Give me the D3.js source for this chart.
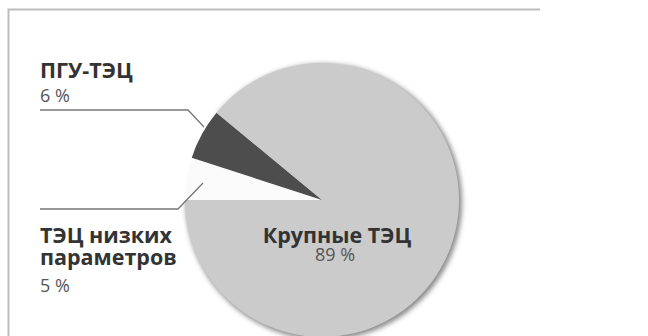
<!DOCTYPE html>
<html lang="ru">
<head>
    <meta charset="UTF-8">
    <title>Структура ТЭЦ</title>
    <script src="https://d3js.org/d3.v7.min.js"></script>
    <style>
        body { margin: 0; background: #fff; font-family: "Open Sans", Arial, sans-serif; }
        svg { display: block; }
        .name { font-weight: 700; fill: #333; font-size: 21.5px; }
        .pct { fill: #555; font-size: 18px; }
    </style>
</head>
<body>
    <svg width="648" height="336"></svg>
    <script>
        // Доли по типам ТЭЦ, %
        const categories = ["ТЭЦ низких параметров", "ПГУ-ТЭЦ", "Крупные ТЭЦ"];
        const values = [5, 6, 89];
        const colors = ["#fafafa", "#4d4d4d", "#cbcbcb"];

        const svg = d3.select("svg");
        const cx = 322, cy = 200, r = 137;

        // рамка
        svg.append("path")
            .attr("d", "M8.5,336 V9.5 H540")
            .attr("fill", "none")
            .attr("stroke", "#bdbdbd")
            .attr("stroke-width", 2);

        const defs = svg.append("defs");
        defs.append("filter").attr("id", "soft")
            .attr("x", "-10%").attr("y", "-10%").attr("width", "120%").attr("height", "120%")
            .append("feGaussianBlur").attr("stdDeviation", 2.5);

        const pie = d3.pie().sort(null)
            .startAngle(-Math.PI / 2)
            .endAngle(3 * Math.PI / 2);
        const arcs = pie(values);
        const arc = d3.arc().innerRadius(0).outerRadius(r);

        const g = svg.append("g").attr("transform", `translate(${cx},${cy})`);

        // тень по краю круга (только у большой доли)
        const big = arcs[2];
        g.append("path")
            .attr("d", d3.arc().innerRadius(0).outerRadius(r + 1)(big))
            .attr("transform", "translate(2,2)")
            .attr("fill", "#8a8a8a")
            .attr("filter", "url(#soft)");

        g.selectAll("path.slice")
            .data(arcs)
            .enter()
            .append("path")
            .attr("class", "slice")
            .attr("d", arc)
            .attr("fill", (d, i) => colors[i]);

        // выноски
        const lines = [
            [[40, 110], [188, 110], [204, 127]],
            [[40, 209], [178, 209], [203, 183]]
        ];
        svg.selectAll("path.leader")
            .data(lines)
            .enter()
            .append("path")
            .attr("class", "leader")
            .attr("d", d3.line())
            .attr("fill", "none")
            .attr("stroke", "#777")
            .attr("stroke-width", 1.3);

        // подписи
        const labels = [
            { t: categories[1], x: 40, y: 78, c: "name" },
            { t: values[1] + " %", x: 40, y: 102, c: "pct" },
            { t: "ТЭЦ низких", x: 40, y: 243, c: "name" },
            { t: "параметров", x: 40, y: 265, c: "name" },
            { t: values[0] + " %", x: 40, y: 292, c: "pct" },
            { t: categories[2], x: 337, y: 243, c: "name", a: "middle" },
            { t: values[2] + " %", x: 335, y: 261, c: "pct", a: "middle" }
        ];
        svg.selectAll("text.lbl")
            .data(labels)
            .enter()
            .append("text")
            .attr("class", d => "lbl " + d.c)
            .attr("x", d => d.x)
            .attr("y", d => d.y)
            .attr("text-anchor", d => d.a || "start")
            .text(d => d.t);
    </script>
</body>
</html>
